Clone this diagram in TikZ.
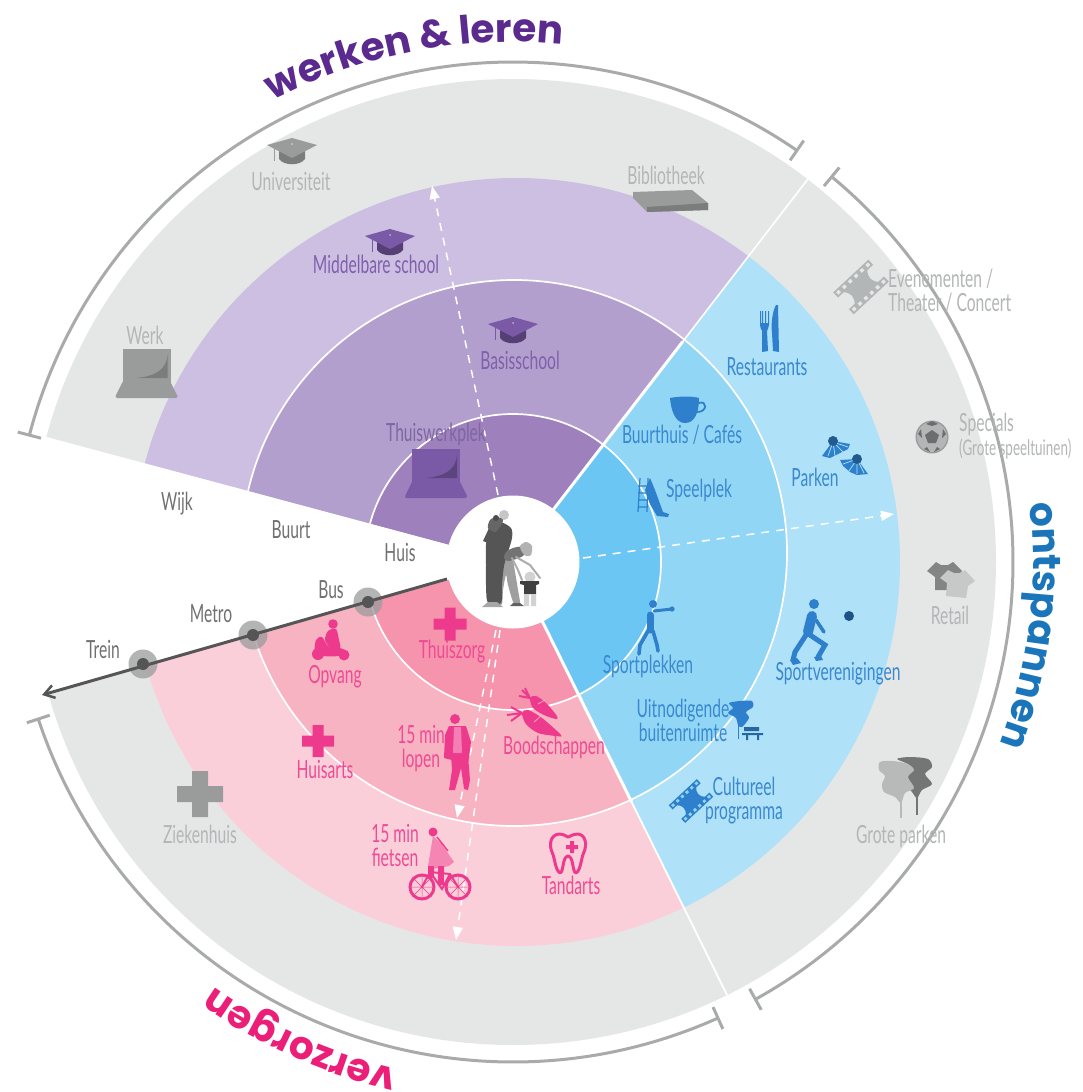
\documentclass[tikz,border=0pt]{standalone}
\usepackage{fontspec}
\usetikzlibrary{arrows.meta,decorations.text}
\newfontfamily\labf[FakeStretch=0.625]{Lato}
\newfontfamily\titf{Poppins}[BoldFont={* Bold}]
\definecolor{grayring}{HTML}{E5E7E7}
\definecolor{pa}{HTML}{9E80BC}\definecolor{pb}{HTML}{B39FCD}\definecolor{pc}{HTML}{CDBFE2}
\definecolor{ba}{HTML}{6CC6F3}\definecolor{bb}{HTML}{92D6F6}\definecolor{bc}{HTML}{AFE1F9}
\definecolor{ra}{HTML}{F594AC}\definecolor{rb}{HTML}{F8B3C3}\definecolor{rc}{HTML}{FBCFDA}
\definecolor{tp}{HTML}{7F60AB}\definecolor{tb}{HTML}{3A88D0}\definecolor{tr}{HTML}{EF4A93}
\definecolor{tg}{HTML}{B3B6B6}\definecolor{tk}{HTML}{707070}
\definecolor{icb}{HTML}{2F80CC}\definecolor{icr}{HTML}{EE3A8C}\definecolor{icp}{HTML}{7A5AA6}
\definecolor{ig}{HTML}{9A9C9C}\definecolor{line}{HTML}{555555}
\definecolor{bracket}{HTML}{A9ABAB}
\tikzset{
  lab/.style={font=\labf\fontsize{25}{24}\selectfont,inner sep=0pt,align=center},
  smalllab/.style={font=\labf\fontsize{21.5}{20}\selectfont,inner sep=0pt,align=left},
  ringline/.style={draw=white,line width=1.7pt},
  bracketline/.style={draw=bracket,line width=3pt},
  dashedarrow/.style={draw=white,line width=1.5pt,dash pattern=on 8pt off 7pt,-{Triangle[length=13pt,width=10pt,fill=white]}},
}
\newcommand{\rings}[3]{%
  \fill[#1] (516,562) circle[radius=384pt];
  \fill[#2] (514,553) circle[radius=273pt];
  \fill[#3] (513,562) circle[radius=148pt];
  \draw[ringline] (514,553) circle[radius=273pt];
  \draw[ringline] (513,562) circle[radius=148pt];
}
\newcommand{\mortar}[4]{% x y top cap
  \begin{scope}[shift={(#1,#2)}]
  \fill[#4] (-13,4) -- (-13,12) .. controls (-8,19) and (8,19) .. (13,12) -- (13,4) -- cycle;
  \fill[#3] (-25,-2) -- (0,-9) -- (25,-2) -- (0,11) -- cycle;
  \draw[#3,line width=0.9pt] (-18,2) -- (-18,14);
  \fill[white,opacity=.5] (0,-3) circle[radius=1pt];
  \end{scope}}
\newcommand{\laptop}[4]{% cx top screen gloss
  \begin{scope}[shift={(#1,#2)}]
  \fill[#3] (-24,0) -- (24,0) -- (24,34) -- (-24,34) -- cycle;
  \fill[#3] (-24,33) -- (24,33) -- (31,47) [rounded corners=1.5pt] -- (31,49) -- (-31,49) -- (-31,47) [sharp corners] -- cycle;
  \fill[#4] (21,6) .. controls (20,20) and (10,27) .. (-10,29) -- (21,29) -- cycle;
  \end{scope}}
\newcommand{\crossicon}[5]{% x y half arm colour
  \fill[#5] (#1-#4,#2-#3) -- (#1+#4,#2-#3) -- (#1+#4,#2-#4) -- (#1+#3,#2-#4) -- (#1+#3,#2+#4) -- (#1+#4,#2+#4) -- (#1+#4,#2+#3) -- (#1-#4,#2+#3) -- (#1-#4,#2+#4) -- (#1-#3,#2+#4) -- (#1-#3,#2-#4) -- (#1-#4,#2-#4) -- cycle;}
\newcommand{\film}[5]{% x y colour hole scale
  \begin{scope}[shift={(#1,#2)},rotate=43,scale=#5]
  \fill[#3] (-17,-9) .. controls (-11,-3) and (-11,3) .. (-17,9) -- (17,9) .. controls (11,3) and (11,-3) .. (17,-9) -- cycle;
  \fill[#3] (-24,-15) rectangle (24,-8);
  \fill[#3] (-24,8) rectangle (24,15);
  \foreach \hx in {-20,-12,-4,4,12,20}{
    \fill[#4] (\hx-1.8,-13.2) rectangle (\hx+1.8,-9.8);
    \fill[#4] (\hx-1.8,9.8) rectangle (\hx+1.8,13.2);}
  \end{scope}}
\begin{document}
\begin{tikzpicture}[x=1pt,y=-1pt]
\useasboundingbox (0,0) rectangle (1083,1092);
\fill[white] (0,0) rectangle (1083,1092);
% ---- outer gray ring
\fill[grayring] (513,562) circle[radius=483pt];
% ---- sectors
\begin{scope}\begin{scope}[shift={(513,562)},y=1pt]\clip (0,0) -- (52.4:700pt) arc[start angle=52.4,end angle=165,radius=700pt] -- cycle;\begin{scope}[shift={(-513,562)},y=-1pt]\rings{pc}{pb}{pa}\end{scope}\end{scope}\end{scope}
\begin{scope}\begin{scope}[shift={(513,562)},y=1pt]\clip (0,0) -- (-63.7:700pt) arc[start angle=-63.7,end angle=52.4,radius=700pt] -- cycle;\begin{scope}[shift={(-513,562)},y=-1pt]\rings{bc}{bb}{ba}\end{scope}\end{scope}\end{scope}
\begin{scope}\begin{scope}[shift={(513,562)},y=1pt]\clip (0,0) -- (195.6:700pt) arc[start angle=195.6,end angle=296.3,radius=700pt] -- cycle;\begin{scope}[shift={(-513,562)},y=-1pt]\rings{rc}{rb}{ra}\end{scope}\end{scope}\end{scope}
% ---- white gap, radial lines, centre
\begin{scope}[shift={(513,562)},y=1pt]
  \fill[white] (0,0) -- (165:700pt) arc[start angle=165,end angle=195.6,radius=700pt] -- cycle;
  \draw[white,line width=3pt] (0,0) -- (52.4:278pt);
  \draw[white,line width=1.6pt] (52.4:278pt) -- (52.4:483pt);
  \draw[white,line width=3pt] (0,0) -- (-63.7:268pt);
  \draw[white,line width=1.8pt] (-63.7:268pt) -- (-63.7:483pt);
  \fill[white] (0,0) circle[radius=66.5pt];
  % brackets
  \draw[bracketline] (165.3:500pt) arc[start angle=165.3,end angle=55.4,radius=500pt];
  \draw[bracketline] (165.3:488pt) -- (165.3:512pt);
  \draw[bracketline] (55.4:488pt) -- (55.4:512pt);
  \draw[bracketline] (50.4:500pt) arc[start angle=50.4,end angle=-61,radius=500pt];
  \draw[bracketline] (50.4:488pt) -- (50.4:512pt);
  \draw[bracketline] (-61:488pt) -- (-61:512pt);
  \draw[bracketline] (294.2:500pt) arc[start angle=294.2,end angle=198.3,radius=500pt];
  \draw[bracketline] (294.2:488pt) -- (294.2:512pt);
  \draw[bracketline] (198.3:488pt) -- (198.3:512pt);
  % titles
  \path[decorate,decoration={text along path,text align=center,
     text={|\titf\bfseries\fontsize{39}{40}\selectfont\color[HTML]{5B2A8F}|werken {\&} leren}}]
     (118:520pt) arc[start angle=118,end angle=84,radius=520pt];
  \path[decorate,decoration={text along path,text align=center,
     text={|\titf\bfseries\fontsize{39}{40}\selectfont\color[HTML]{1B75BB}|ontspannen}}]
     (6:520pt) arc[start angle=6,end angle=-20,radius=520pt];
  \path[decorate,decoration={text along path,text align=center,
     text={|\titf\bfseries\fontsize{39}{40}\selectfont\color[HTML]{EC1F78}|verzorgen}}]
     (258:520pt) arc[start angle=258,end angle=234,radius=520pt];
\end{scope}
% ---- dashed arrows
\coordinate (dAs) at (498,495);\coordinate (dAe) at (432,186);
\coordinate (dBs) at (583,558);\coordinate (dBe) at (894,514);
\coordinate (dCs) at (496,630);\coordinate (dCe) at (457,818);
\coordinate (dDs) at (500,630);\coordinate (dDe) at (456,940);
\draw[dashedarrow] (dAs) -- (dAe);
\draw[dashedarrow] (dBs) -- (dBe);
\draw[dashedarrow] (dCs) -- (dCe);
\draw[dashedarrow] (dDs) -- (dDe);
% ---- transit line
\coordinate (busP) at (368,602);\coordinate (metP) at (253,635);\coordinate (trnP) at (143,664);
\fill[ig,opacity=.75] (busP) circle[radius=14.5pt] (metP) circle[radius=14.5pt] (trnP) circle[radius=14.5pt];
\coordinate (lineS) at (447,579);\coordinate (lineE) at (42,695);
\draw[line,line width=3pt,-{Straight Barb[length=10pt,width=13pt,line width=2.5pt]}] (lineS) -- (lineE);
\fill[line] (busP) circle[radius=6pt] (metP) circle[radius=6pt] (trnP) circle[radius=6pt];
% ---- centre family
% mother: legs
\fill[gray!75] plot[smooth cycle] coordinates {(500,562) (512,560) (515,572) (518,590) (520,604) (514,604) (508,585) (506,575) (503,590) (502,604) (498,604) (498,585)};
\fill[black!62] (510,606) -- (513,603) -- (520,603) -- (524,606) -- cycle;
% father
\fill[line] plot[smooth cycle] coordinates {(490,526) (500,522) (511,528) (512,538) (508,552) (504,566) (502,585) (501,603) (488,603) (486,585) (486,565) (486,545)};
\fill[line] (483,541) -- (490,526) -- (494,530) -- (488,543) -- cycle;
\fill[gray!70] (482,607) -- (488,602) -- (497,602) -- (503,607) -- cycle;
\fill[gray!45] (504,515) circle[radius=5pt];
% baby
\fill[black!60] plot[smooth cycle] coordinates {(488,528) (490,520) (497,517) (503,520) (500,527) (495,532)};
\fill[black!70] (496,518) circle[radius=3pt];
% mother: torso, head, arm
\fill[black!55] plot[smooth cycle] coordinates {(506,552) (513,548) (522,547) (524,555) (516,559) (508,561) (504,558)};
\fill[gray!60] plot[smooth cycle] coordinates {(520,546) (526,542) (532,546) (531,555) (526,556) (522,552)};
\draw[gray!65,line width=2pt,line cap=round] (516,557) -- (530,565) -- (540,578);
\draw[gray!65,line width=2pt,line cap=round] (512,558) -- (518,570) -- (522,580);
% child
\fill[gray!35] (530,577) circle[radius=5.5pt];
\fill[black!75] (520,581) -- (539,581) -- (539,584) -- (536,585) -- (536,594) -- (524,594) -- (524,585) -- (520,584) -- cycle;
\fill[gray!35] (524,594) rectangle (529,606) (531,594) rectangle (536,606);
% ---- purple icons
\mortar{292}{147}{ig}{ig!80!black}
\mortar{390}{238}{icp}{icp!70!black}
\mortar{513}{326}{icp}{icp!70!black}
\laptop{146.5}{349}{ig}{ig!80!black}
\laptop{436}{449}{icp}{icp!75!black}
\fill[ig] (633,192) -- (692,190) -- (708,203) -- (708,210) -- (647,212) -- (633,198) -- cycle;
\fill[ig!80!black] (647,207) -- (708,203) -- (708,210) -- (647,212) -- cycle;
% ---- blue icons
\fill[icb] (760,311) -- (761,311) -- (761,323) -- (762,323) -- (762,311) -- (763,311) -- (763,323) -- (765,323) -- (765,311) -- (766,311) -- (766,323) -- (768,323) -- (768,311) -- (769,311) -- (769,325) .. controls (769,328) and (767,330) .. (767,331) -- (768,351) -- (762,352) -- (762,331) .. controls (761,329) and (760,327) .. (760,325) -- cycle;
\fill[icb] (776,305) .. controls (772,312) and (771,325) .. (772,333) -- (773,351) -- (779,352) -- (778,305) -- cycle;
\fill[icb] (670,398) .. controls (680,396) and (692,396) .. (699,398) .. controls (699,412) and (695,423) .. (685,423) .. controls (675,423) and (671,410) .. (670,398) -- cycle;
\draw[icb,line width=1.8pt] (699,403) .. controls (707,400) and (708,412) .. (697,412);
\draw[icb,line width=1.2pt] (640,478) -- (638,512) (648,478) -- (647,512) (638,486) -- (648,486) (638,493) -- (648,493) (638,500) -- (648,500) (638,507) -- (648,507);
\fill[icb] (650,478) -- (655,490) -- (663,512) -- (669,514) -- (668,517) -- (657,516) -- (650,504) -- (645,490) -- cycle;
% shuttlecocks
\fill[icb] (833,441) -- (850,444) -- (848,449) -- (836,455) -- (830,458) -- (822,456) -- cycle;
\draw[bc,line width=.7pt] (833,442) -- (848,447) (833,442) -- (843,452) (833,442) -- (835,456) (833,442) -- (828,456);
\fill[icb!70!black] (833,441) circle[radius=5pt];
\fill[icb] (857,459) -- (840,460) -- (843,466) -- (850,472) -- (857,475) -- (868,474) -- cycle;
\draw[bc,line width=.7pt] (857,459) -- (843,464) (857,459) -- (849,471) (857,459) -- (857,474) (857,459) -- (864,473);
\fill[icb!70!black] (857,459) circle[radius=5pt];
% boxer
\fill[icb] (653,604) circle[radius=4pt];
\draw[icb,line width=7pt,line cap=round] (650,615) -- (650,630);
\draw[icb,line width=3pt,line cap=round] (654,611) -- (672,609);
\draw[icb,line width=3.6pt,line cap=round] (648,631) -- (640,645) -- (639,654);
\draw[icb,line width=3.6pt,line cap=round] (653,631) -- (657,645) -- (658,651);
\fill[icb] (672,609) circle[radius=2.6pt];
% volleyball player
\fill[icb] (814,604) circle[radius=5pt];
\draw[icb,line width=10pt,line cap=round] (812,616) -- (808,632);
\draw[icb,line width=5pt,line cap=round] (806,635) -- (795,652) -- (793,660);
\draw[icb,line width=5pt,line cap=round] (810,635) -- (825,645) -- (818,657);
\draw[icb,line width=3.5pt,line cap=round] (816,620) -- (824,632);
\fill[icb] (790,660) -- (797,658) -- (801,663) -- (793,665) -- cycle;
\fill[icb] (814,657) -- (821,656) -- (823,660) -- (816,661) -- cycle;
\fill[icb!65!black] (849,616) circle[radius=5pt];
% tree and bench
\fill[icb] plot[smooth cycle] coordinates {(729,703) (740,701) (752,701) (753,707) (746,712) (749,718) (742,727) (738,725) (736,718) (728,713) (733,708)};
\draw[icb,line width=1pt] (738,725) -- (738,739);
\fill[icb!80!black] (744,727) rectangle (759,731) (742,733) rectangle (763,735) (746,735) rectangle (748,740) (757,735) rectangle (759,740);
\film{691}{801}{icb}{bb}{0.8}
% ---- pink icons
\crossicon{450}{624}{16.5}{5.5}{icr}
\crossicon{318}{741}{16}{5.5}{icr}
% toy rider
\fill[icr] (333,624) circle[radius=4.8pt];
\fill[icr] plot[smooth cycle] coordinates {(328,631) (336,629) (339,640) (340,648) (330,647) (325,640)};
\fill[icr] plot[smooth cycle] coordinates {(316,640) (322,637) (328,646) (340,648) (347,652) (338,656) (324,656) (315,652)};
\fill[icr] (318,654) circle[radius=6pt] (344,655) circle[radius=5.5pt];
% carrots
\fill[icr] plot[smooth cycle] coordinates {(530,698) (536,696) (546,703) (557,716) (556,719) (544,715) (533,708)};
\fill[icr] plot[smooth cycle] coordinates {(522,713) (528,710) (542,718) (561,735) (556,736) (538,733) (526,724)};
\draw[icr,line width=2pt] (530,698) -- (522,690) (530,698) -- (519,696) (530,698) -- (525,688);
\draw[icr,line width=2pt] (522,713) -- (511,707) (522,713) -- (507,715) (522,713) -- (511,721);
\draw[rb,line width=.7pt] (538,704) -- (545,700) (534,722) -- (541,716);
% walker
\fill[icr] (455,719) circle[radius=5pt];
\fill[icr] (449,726) -- (466,726) -- (471,742) -- (468,764) -- (444,758) -- (445,735) -- cycle;
\fill[icr!65!white] (454,727) -- (461,727) -- (462,753) -- (453,753) -- cycle;
\fill[icr] (451,755) -- (468,755) -- (470,780) -- (468,790) -- (464,789) -- (461,768) -- (455,790) -- (449,790) -- (452,770) -- cycle;
% cyclist
\fill[icr] (433,832) circle[radius=4.5pt];
\fill[icr!50!rc] (433,836) -- (441,843) -- (454,862) -- (449,866) -- (433,869) -- (428,866) -- cycle;
\draw[icr,line width=1.4pt] (437,837) -- (448,851);
\fill[icr] (428,866) rectangle (434,878);
\fill[icr] (438,866) rectangle (444,885);
\draw[icr,line width=3pt] (422,887) circle[radius=12pt] (458,887) circle[radius=12pt];
\draw[icr,line width=2pt] (422,887) -- (430,872) -- (450,874) -- (458,887) (430,872) -- (442,889) -- (450,874);
\draw[icr,line width=.5pt] (410,887) -- (434,887) (422,875) -- (422,899) (414,879) -- (430,895) (414,895) -- (430,879) (446,887) -- (470,887) (458,875) -- (458,899) (450,879) -- (466,895) (450,895) -- (466,879);
% tooth
\draw[icr,line width=3pt,line join=round] (559,834) .. controls (565,834) and (566,837) .. (568,837) .. controls (570,837) and (572,834) .. (578,834) .. controls (586,835) and (587,845) .. (584,852) .. controls (581,858) and (581,870) .. (576,873) .. controls (572,872) and (574,857) .. (568,856) .. controls (562,857) and (564,872) .. (560,873) .. controls (555,870) and (555,858) .. (552,852) .. controls (549,845) and (550,835) .. (559,834) -- cycle;
\crossicon{572}{847}{6}{2}{icr}
% ---- gray icons
\crossicon{200}{794}{23}{8}{ig}
\film{861}{287}{tg}{grayring}{1}
\fill[ig] (932,437) circle[radius=16.5pt];
\fill[tg] (932,437) circle[radius=15pt];
\fill[ig!70!black] (932,430) -- (939,435) -- (936,443) -- (928,443) -- (925,435) -- cycle;
\fill[ig!70!black] (932,421) -- (926,424) -- (932,426) -- (938,424) -- cycle (918,434) -- (921,429) -- (922,438) -- cycle (946,434) -- (943,429) -- (942,438) -- cycle (924,449) -- (930,452) -- (927,447) -- cycle (940,449) -- (934,452) -- (937,447) -- cycle;
\fill[ig!85!black] (936,562) -- (941,565) -- (948,565) -- (953,562) -- (962,571) -- (956,577) -- (956,590) -- (935,590) -- (935,577) -- (927,571) -- cycle;
\fill[ig!55!white] (948,570) -- (954,573) -- (960,573) -- (965,570) -- (975,581) -- (968,586) -- (966,598) -- (946,596) -- (947,583) -- (940,578) -- cycle;
\fill[ig!75!black] plot[smooth cycle] coordinates {(897,759) (910,757) (928,759) (932,767) (925,774) (932,784) (922,790) (917,798) (912,792) (906,785) (905,775) (909,765)};
\draw[ig!75!black,line width=1.4pt] (917,796) -- (917,815);
\fill[ig!70!white] plot[smooth cycle] coordinates {(880,762) (893,761) (908,764) (914,770) (908,777) (914,788) (905,793) (901,803) (895,797) (884,792) (882,784) (885,776) (879,770)};
\draw[ig!70!white,line width=1.4pt] (901,801) -- (901,818);
% ---- labels
\node[lab,text=tg] (uni) at (291,181) {Universiteit};
\node[lab,text=tg] (bib) at (666,175) {Bibliotheek};
\node[lab,text=tp] (mid) at (376,264) {Middelbare school};
\node[lab,text=tp] (bas) at (520,360) {Basisschool};
\node[lab,text=tp!85!gray] (thu) at (436,434) {Thuiswerkplek};
\node[lab,text=tg] (wrk) at (145,335) {Werk};
\node[lab,text=tk] (wij) at (177,504) {Wijk};
\node[lab,text=tk] (buu) at (291,530) {Buurt};
\node[lab,text=tk] (hui) at (400,552) {Huis};
\node[lab,text=tk] (bus) at (331,590) {Bus};
\node[lab,text=tk] (met) at (211,614) {Metro};
\node[lab,text=tk] (tre) at (103,649) {Trein};
\node[lab,text=tr] (opv) at (335,677) {Opvang};
\node[lab,text=tr] (tzg) at (452,652) {Thuiszorg};
\node[lab,text=tr] (has) at (325,769) {Huisarts};
\node[lab,text=tr] (lop) at (421,749) {15 min\\lopen};
\node[lab,text=tr] (boo) at (554,747) {Boodschappen};
\node[lab,text=tr] (fie) at (395,845) {15 min\\fietsen};
\node[lab,text=tr] (tan) at (571,885) {Tandarts};
\node[lab,text=tg] (zie) at (200,834) {Ziekenhuis};
\node[lab,text=tb] (res) at (767,367) {Restaurants};
\node[lab,text=tb] (cafe) at (682,435) {Buurthuis / Cafés};
\node[lab,text=tb] (spe) at (699,490) {Speelplek};
\node[lab,text=tb] (par) at (815,477) {Parken};
\node[lab,text=tb] (spo) at (648,666) {Sportplekken};
\node[lab,text=tb] (ver) at (838,674) {Sportverenigingen};
\node[lab,text=tb] (uit) at (683,720) {Uitnodigende\\buitenruimte};
\node[lab,text=tb] (cul) at (744,801) {Cultureel\\programma};
\node[lab,text=tg,align=left,anchor=west] (eve) at (888,291) {Evenementen /\\Theater / Concert};
\node[lab,text=tg,anchor=west] (sp1) at (959,424) {Specials};
\node[smalllab,text=tg,anchor=west] (sp2) at (959,449) {(Grote speeltuinen)};
\node[lab,text=tg] (ret) at (950,615) {Retail};
\node[lab,text=tg] (gpa) at (901,836) {Grote parken};
\end{tikzpicture}
\end{document}
